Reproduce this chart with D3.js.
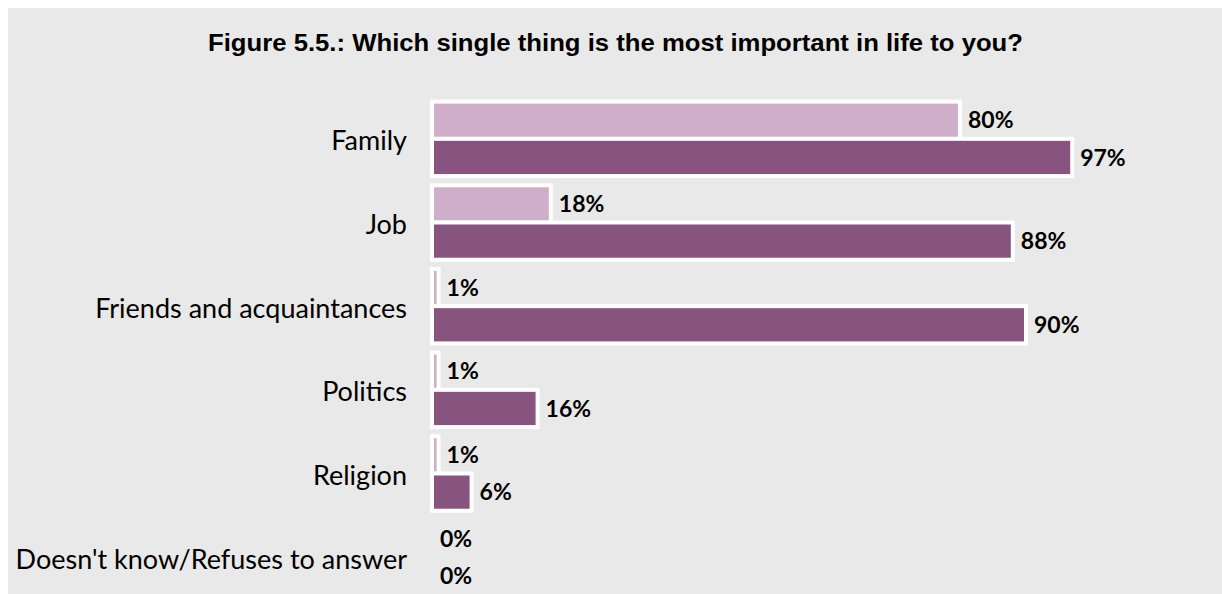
<!DOCTYPE html>
<html>
<head>
<meta charset="utf-8">
<script src="https://cdn.jsdelivr.net/npm/d3@7"></script>
<style>
  html, body { margin: 0; padding: 0; background: #ffffff; }
  svg { display: block; }
</style>
</head>
<body>
<svg id="chart" width="1222" height="594"></svg>
<script>
// Survey answers: share of respondents per item, two series per category
const categories = ["Family", "Job", "Friends and acquaintances", "Politics", "Religion", "Doesn't know/Refuses to answer"];
const seriesNames = ["first", "second"];
const firstValues = [80, 18, 1, 1, 1, 0];
const secondValues = [97, 88, 90, 16, 6, 0];
const titleText = "Figure 5.5.: Which single thing is the most important in life to you?";

const width = 1222, height = 594;
const svg = d3.select("#chart");

// panel background
svg.append("rect")
  .attr("x", 8).attr("y", 8)
  .attr("width", width - 8).attr("height", height - 8)
  .attr("fill", "#e9e9e9");

svg.append("text")
  .attr("x", 208).attr("y", 51)
  .attr("textLength", 815)
  .attr("lengthAdjust", "spacingAndGlyphs")
  .attr("font-family", "Liberation Sans, Arial, sans-serif")
  .attr("font-weight", "bold")
  .attr("font-size", 24)
  .attr("fill", "#000")
  .text(titleText);

const x = d3.scaleLinear().domain([0, 100]).range([432, 1092]);
const y = d3.scaleBand().domain(categories).range([97, 599]).paddingInner(0.11).paddingOuter(0.055);
const ySub = d3.scaleBand().domain(seriesNames).range([0, y.bandwidth()]);
const colors = { first: "#cfaec9", second: "#87537f" };

const rows = categories.map((c, i) => ({
  category: c,
  values: [
    { key: "first", value: firstValues[i] },
    { key: "second", value: secondValues[i] }
  ]
}));

const groups = svg.append("g").selectAll("g")
  .data(rows)
  .join("g")
  .attr("transform", d => `translate(0,${y(d.category)})`);

groups.selectAll("rect")
  .data(d => d.values)
  .join("rect")
  .attr("x", x(0))
  .attr("y", d => ySub(d.key))
  .attr("width", d => x(d.value) - x(0))
  .attr("height", ySub.bandwidth())
  .attr("fill", d => colors[d.key])
  .attr("stroke", "#ffffff")
  .attr("stroke-width", 4);

groups.selectAll("text.value")
  .data(d => d.values)
  .join("text")
  .attr("class", "value")
  .attr("x", d => x(d.value) + 8)
  .attr("y", d => ySub(d.key) + ySub.bandwidth() / 2)
  .attr("dy", "0.36em")
  .attr("font-family", "Lato, 'Open Sans', sans-serif")
  .attr("font-weight", "bold")
  .attr("font-size", 23)
  .attr("fill", "#000")
  .text(d => d.value + "%");

// category axis labels
svg.append("g").selectAll("text")
  .data(categories)
  .join("text")
  .attr("x", 407)
  .attr("y", d => y(d) + y.bandwidth() / 2)
  .attr("dy", "0.42em")
  .attr("text-anchor", "end")
  .attr("font-family", "Lato, 'Open Sans', sans-serif")
  .attr("font-size", 27)
  .attr("fill", "#000")
  .text(d => d);
</script>
</body>
</html>
